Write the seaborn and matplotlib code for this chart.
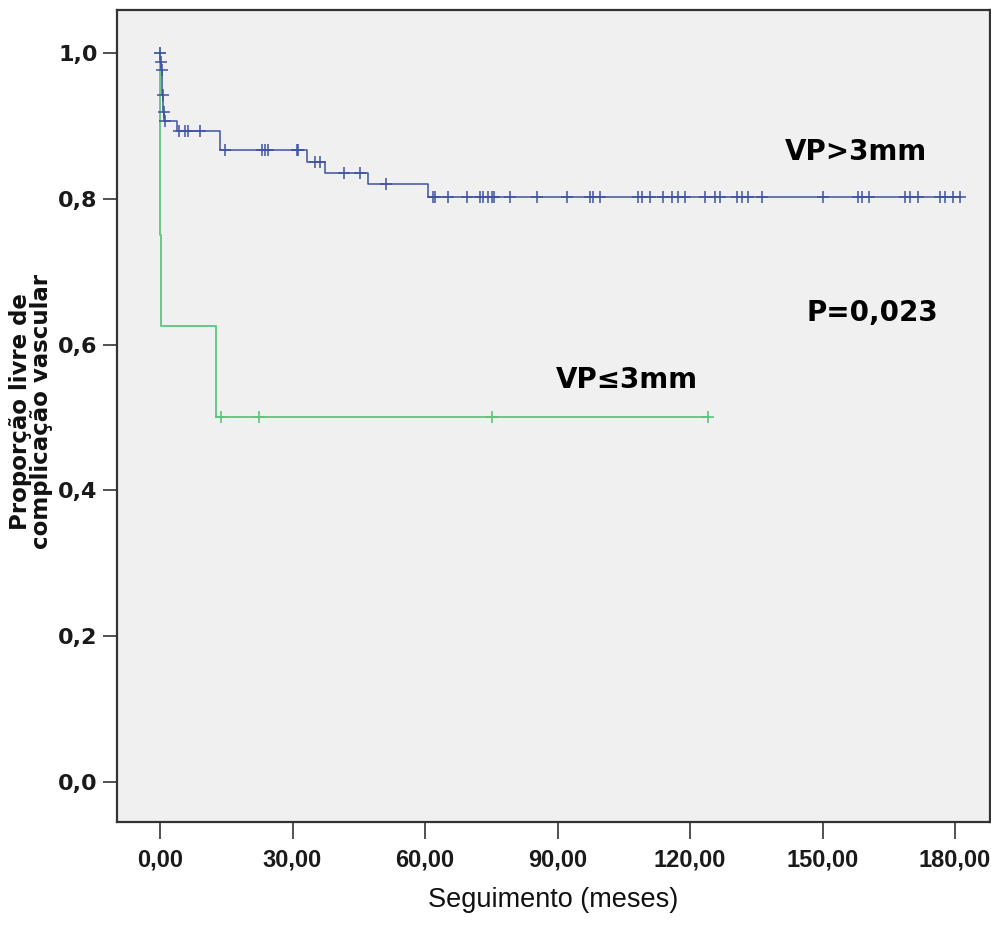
import numpy as np
import pandas as pd
import matplotlib
matplotlib.use("Agg")
import matplotlib.pyplot as plt
import seaborn as sns

# ---- data ----
# VP>3mm group: step times (months) and survival level after each step
blue_times = [0.0, 0.1, 0.3, 0.5, 0.7, 1.0, 3.8, 13.6, 33.3, 37.4, 47.1, 60.7]
blue_levels = [1.000, 0.988, 0.977, 0.942, 0.919, 0.907, 0.893, 0.867, 0.851, 0.835, 0.820, 0.803]
blue_censor = [0.05, 0.2, 0.4, 0.6, 0.8, 1.2,
               4.3, 5.7, 6.3, 9.1,
               14.7, 23.0, 23.8, 24.5, 30.9, 31.2,
               35.1, 36.2, 41.7, 45.3, 51.2,
               61.9, 62.3, 65.3, 69.4, 72.4, 73.2, 74.3, 75.1, 75.5, 79.2, 85.3,
               92.1, 97.4, 98.1, 99.6, 108.3, 109.1, 110.9, 113.9, 115.8, 117.3,
               118.9, 123.4, 125.6, 126.8, 130.6, 131.7, 133.2, 136.2, 150.2,
               158.1, 158.9, 160.4, 168.7, 169.8, 171.7, 176.6, 177.7, 179.6, 181.0]

# VP<=3mm group
green_times = [0.0, 0.05, 0.1, 0.15, 12.6]
green_levels = [1.000, 0.875, 0.750, 0.625, 0.500]
green_censor = [0.0, 13.8, 22.4, 75.2, 124.1]

x_ticks = [0, 30, 60, 90, 120, 150, 180]
x_ticklabels = ["0,00", "30,00", "60,00", "90,00", "120,00", "150,00", "180,00"]
y_ticks = [0.0, 0.2, 0.4, 0.6, 0.8, 1.0]
y_ticklabels = ["0,0", "0,2", "0,4", "0,6", "0,8", "1,0"]

BLUE = "#3f52a4"
GREEN = "#5cc47e"


def step_curve(times, levels, censor):
    t = list(times) + [max(censor)]
    s = list(levels) + [levels[-1]]
    return pd.DataFrame({"t": t, "s": s})


def censor_points(times, levels, censor):
    tt = np.asarray(times)
    ll = np.asarray(levels)
    idx = np.searchsorted(tt, censor, side="right") - 1
    return pd.DataFrame({"t": censor, "s": ll[idx]})


sns.set_style("ticks")
plt.rcParams["font.family"] = ["Liberation Sans", "DejaVu Sans"]

fig = plt.figure(figsize=(9.91, 9.25), dpi=100)
ax = fig.add_axes([117 / 991, 103 / 925, 873 / 991, 812 / 925])
ax.set_facecolor("#f0f0f0")

bc = step_curve(blue_times, blue_levels, blue_censor)
gc = step_curve(green_times, green_levels, green_censor)
sns.lineplot(data=gc, x="t", y="s", drawstyle="steps-post", estimator=None,
             sort=False, color=GREEN, linewidth=1.3, ax=ax)
sns.lineplot(data=bc, x="t", y="s", drawstyle="steps-post", estimator=None,
             sort=False, color=BLUE, linewidth=1.1, ax=ax)

bp = censor_points(blue_times, blue_levels, blue_censor)
gp = censor_points(green_times, green_levels, green_censor)
sns.scatterplot(data=gp, x="t", y="s", marker="+", s=80, color=GREEN,
                linewidth=1.2, ax=ax, zorder=3)
sns.scatterplot(data=bp, x="t", y="s", marker="+", s=80, color=BLUE,
                linewidth=1.1, ax=ax, zorder=4)

ax.set_xlim(-9.74, 187.9)
ax.set_ylim(-0.0549, 1.059)

ax.set_xticks(x_ticks)
ax.set_xticklabels(x_ticklabels, fontsize=17, fontweight="bold",
                   family=["Liberation Sans", "DejaVu Sans"], color="#1a1a1a")
ax.set_yticks(y_ticks)
ax.set_yticklabels(y_ticklabels, fontsize=16, fontweight="bold",
                   family=["DejaVu Sans"], color="#1a1a1a")
ax.tick_params(axis="x", length=12, width=1.2, color="#333333", pad=7)
ax.tick_params(axis="y", length=10, width=1.2, color="#333333", pad=4)

for sp in ax.spines.values():
    sp.set_color("#333333")
    sp.set_linewidth(1.6)
    sp.set_visible(True)

ax.set_xlabel("Seguimento (meses)", fontsize=19.5, color="#111111",
              fontstretch="condensed",
              family=["Liberation Sans", "DejaVu Sans"], labelpad=11)
ax.set_ylabel("Proporção livre de\ncomplicação vascular", fontsize=16.5,
              fontweight="bold", linespacing=0.88, color="#111111",
              family=["DejaVu Sans"])
ax.yaxis.set_label_coords(-0.0985, 0.505)
ax.yaxis.label.set_verticalalignment("center")

ann_font = dict(fontsize=20, fontweight="bold", ha="center", va="center",
                color="black", family=["DejaVu Sans"])
ax.text(157.6, 0.864, "VP>3mm", **ann_font)
ax.text(161.2, 0.643, "P=0,023", **ann_font)
ax.text(105.7, 0.551, "VP≤3mm", **ann_font)

fig.savefig("out.png", dpi=100, facecolor="white")
